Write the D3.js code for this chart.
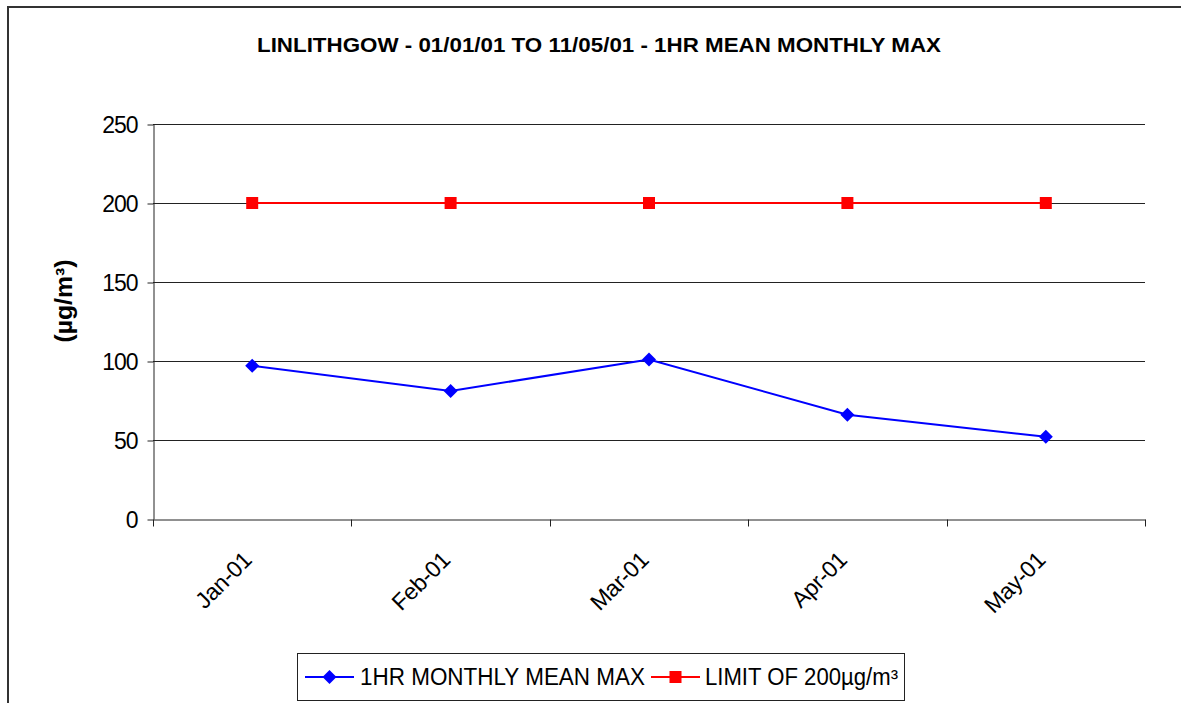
<!DOCTYPE html>
<html><head><meta charset="utf-8">
<script src="https://cdn.jsdelivr.net/npm/d3@7"></script>
<style>body{margin:0;background:#fff;}svg{display:block;}text{font-family:"Liberation Sans",Arial,sans-serif;}</style>
</head><body>
<svg id="c" width="1181" height="703"></svg>
<script>
const categories = ["Jan-01","Feb-01","Mar-01","Apr-01","May-01"];
const meanMax = [97, 81, 101, 66, 52];
const limit = [200, 200, 200, 200, 200];
const yTicks = [0, 50, 100, 150, 200, 250];
const seriesNames = ["1HR MONTHLY MEAN MAX", "LIMIT OF 200µg/m³"];
const title = "LINLITHGOW - 01/01/01 TO 11/05/01 - 1HR MEAN MONTHLY MAX";
const yTitle = "(µg/m³)";

const svg = d3.select("#c");
const m = {left:153, right:1145, top:124, bottom:519};

svg.append("rect").attr("x",8).attr("y",7).attr("width",1190).attr("height",720)
  .attr("fill","#fff").attr("stroke","#333").attr("stroke-width",2);

const x = d3.scaleBand().domain(categories).range([m.left,m.right]);
const y = d3.scaleLinear().domain([0,250]).range([m.bottom,m.top]);

// gridlines
svg.append("g").selectAll("line").data(yTicks.filter(d=>d>0)).join("line")
  .attr("x1",m.left).attr("x2",m.right).attr("y1",d=>Math.round(y(d))+0.5).attr("y2",d=>Math.round(y(d))+0.5)
  .attr("stroke","#222").attr("stroke-width",1);

// y axis
const yAxis = svg.append("g").attr("transform",`translate(${m.left+0.5},0)`)
  .call(d3.axisLeft(y).tickValues(yTicks).tickSize(6).tickPadding(10).tickSizeOuter(0));
yAxis.attr("font-size",null).attr("font-family",null);
yAxis.select(".domain").attr("stroke","#222");
yAxis.selectAll(".tick line").attr("stroke","#222").attr("transform","translate(0,0.5)");
yAxis.selectAll(".tick text").attr("font-size",23).attr("fill","#000").attr("letter-spacing",-1).attr("dy","0.36em");

// x axis
const xAxis = svg.append("g").attr("transform",`translate(0,${m.bottom+0.5})`)
  .call(d3.axisBottom(x).tickSize(0).tickSizeOuter(0));
xAxis.attr("font-size",null).attr("font-family",null);
xAxis.select(".domain").attr("stroke","#222");
xAxis.selectAll(".tick text").remove();
const bounds = categories.map(c=>x(c)).concat([m.right]);
xAxis.selectAll("line.b").data(bounds).join("line").attr("class","b")
  .attr("x1",d=>Math.round(d)+0.5).attr("x2",d=>Math.round(d)+0.5).attr("y1",0).attr("y2",7).attr("stroke","#222");
xAxis.selectAll("text.l").data(categories).join("text").attr("class","l")
  .attr("transform",d=>`translate(${x(d)+x.bandwidth()/2+1},${42}) rotate(-45)`)
  .attr("text-anchor","end").attr("font-size",23).attr("letter-spacing",-0.3).attr("fill","#000").text(d=>d);

// title
svg.append("text").attr("x",599).attr("y",52).attr("text-anchor","middle")
  .attr("font-size",20).attr("font-weight","bold").attr("textLength",684).attr("lengthAdjust","spacingAndGlyphs").text(title);

// y title
svg.append("text").attr("transform","translate(72,301) rotate(-90)").attr("text-anchor","middle")
  .attr("font-size",23).attr("font-weight","bold").attr("textLength",83).attr("lengthAdjust","spacingAndGlyphs").text(yTitle);

// lines
const line = d3.line().x((d,i)=>x(categories[i])+x.bandwidth()/2).y(d=>y(d));
svg.append("path").datum(limit).attr("d",line).attr("fill","none").attr("stroke","#ff0000").attr("stroke-width",2);
svg.append("path").datum(meanMax).attr("d",line).attr("fill","none").attr("stroke","#0000ff").attr("stroke-width",2);

const diamond = (cx,cy,r)=>`M${cx},${cy-r}L${cx+r},${cy}L${cx},${cy+r}L${cx-r},${cy}Z`;
svg.append("g").selectAll("rect").data(limit).join("rect")
  .attr("x",(d,i)=>x(categories[i])+x.bandwidth()/2-6).attr("y",d=>y(d)-6)
  .attr("width",12).attr("height",12).attr("fill","#ff0000");
svg.append("g").selectAll("path").data(meanMax).join("path")
  .attr("d",(d,i)=>diamond(x(categories[i])+x.bandwidth()/2,y(d),7)).attr("fill","#0000ff");

// legend
const lg = svg.append("g");
lg.append("rect").attr("x",297.5).attr("y",653.5).attr("width",607).attr("height",47).attr("fill","#fff").attr("stroke","#222").attr("stroke-width",1);
const ly = 677;
lg.append("line").attr("x1",305).attr("x2",354).attr("y1",ly).attr("y2",ly).attr("stroke","#0000ff").attr("stroke-width",2);
lg.append("path").attr("d",diamond(329.5,ly,7)).attr("fill","#0000ff");
lg.append("text").attr("x",360).attr("y",ly+8).attr("font-size",23).attr("textLength",285).attr("lengthAdjust","spacingAndGlyphs").text(seriesNames[0]);
lg.append("line").attr("x1",651).attr("x2",700).attr("y1",ly).attr("y2",ly).attr("stroke","#ff0000").attr("stroke-width",2);
lg.append("rect").attr("x",669.5).attr("y",ly-6).attr("width",12).attr("height",12).attr("fill","#ff0000");
lg.append("text").attr("x",705).attr("y",ly+8).attr("font-size",23).attr("textLength",193).attr("lengthAdjust","spacingAndGlyphs").text(seriesNames[1]);
</script>
</body></html>
